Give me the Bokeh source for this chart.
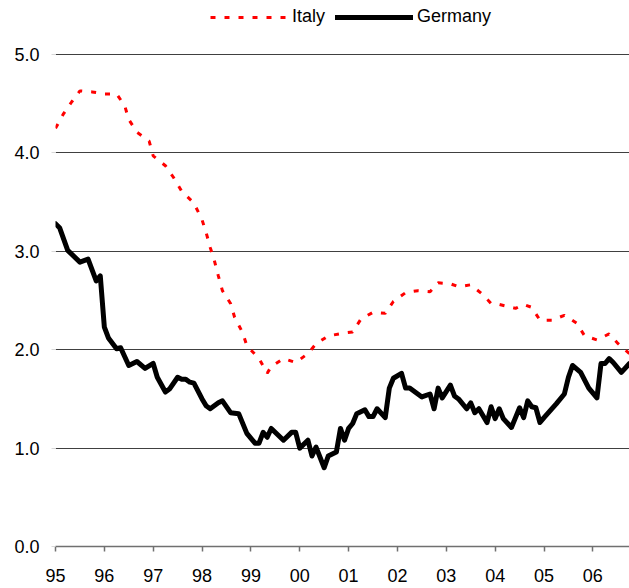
from bokeh.plotting import figure
from bokeh.models import FixedTicker, Legend, LegendItem, Range1d, NumeralTickFormatter
from bokeh.embed import file_html
from bokeh.resources import INLINE

# months since Jan 1995
year_ticks = [0, 12, 24, 36, 48, 60, 72, 84, 96, 108, 120, 132]
year_labels = ["95", "96", "97", "98", "99", "00", "01", "02", "03", "04", "05", "06"]
y_ticks = [0, 1, 2, 3, 4, 5]

germany_month = [0, 1, 3, 6, 8, 10, 11, 12, 13, 15, 16, 18, 20, 22, 24, 25, 27, 28, 30, 31,
                 32, 33, 34, 36, 37, 38, 40, 41, 43, 45, 47, 49, 50, 51, 52, 53, 56, 58, 59, 60,
                 62, 63, 64, 66, 67, 69, 70, 71, 72, 73, 74, 76, 77, 78, 79, 81, 82, 83, 85, 86,
                 87, 90, 92, 93, 94, 95, 97, 98, 99, 101, 102, 103, 104, 106, 107, 108, 109, 110,
                 112, 113, 114, 115, 116, 117, 118, 119, 120, 123, 125, 126, 127, 129, 131, 133,
                 134, 135, 136, 137, 139, 141]
germany_value = [3.28, 3.24, 3.01, 2.89, 2.92, 2.70, 2.75, 2.23, 2.12, 2.01, 2.02, 1.84, 1.88, 1.81,
                 1.86, 1.72, 1.57, 1.60, 1.72, 1.70, 1.70, 1.67, 1.66, 1.50, 1.43, 1.40, 1.46, 1.48,
                 1.36, 1.35, 1.15, 1.05, 1.05, 1.16, 1.11, 1.20, 1.08, 1.16, 1.16, 1.00, 1.08, 0.92,
                 1.01, 0.80, 0.92, 0.96, 1.20, 1.08, 1.20, 1.25, 1.35, 1.39, 1.32, 1.32, 1.40, 1.31,
                 1.61, 1.71, 1.76, 1.61, 1.61, 1.52, 1.55, 1.40, 1.61, 1.51, 1.64, 1.53, 1.50, 1.40,
                 1.46, 1.36, 1.40, 1.26, 1.42, 1.30, 1.40, 1.30, 1.21, 1.31, 1.41, 1.31, 1.48, 1.42,
                 1.41, 1.26, 1.31, 1.45, 1.55, 1.72, 1.84, 1.77, 1.61, 1.51, 1.86, 1.86, 1.91, 1.87,
                 1.77, 1.86]

italy_month = [0, 2, 4, 6, 9, 12, 15, 17, 18, 20, 23, 24, 27, 29, 31, 34, 36, 37, 38, 39, 40, 41,
               43, 44, 46, 47, 50, 52, 53, 56, 59, 62, 64, 67, 71, 73, 75, 78, 81, 83, 86, 89, 92,
               94, 97, 99, 102, 105, 107, 109, 113, 115, 117, 119, 122, 125, 128, 130, 133, 136,
               138, 141]
italy_value = [4.25, 4.40, 4.52, 4.63, 4.62, 4.60, 4.60, 4.48, 4.34, 4.21, 4.12, 3.97, 3.87, 3.75,
               3.61, 3.49, 3.32, 3.19, 3.04, 2.91, 2.75, 2.60, 2.47, 2.33, 2.17, 2.04, 1.91, 1.76,
               1.83, 1.91, 1.87, 1.96, 2.06, 2.14, 2.17, 2.18, 2.31, 2.38, 2.37, 2.49, 2.58, 2.60,
               2.59, 2.68, 2.67, 2.64, 2.66, 2.56, 2.47, 2.46, 2.42, 2.46, 2.43, 2.30, 2.30, 2.35,
               2.27, 2.14, 2.10, 2.16, 2.07, 1.96]

FONT = "Liberation Sans"
FSIZE = "18px"

# frame spans the full height above the axis; headroom above 5.0 holds the legend
p = figure(width=629, height=588, output_backend="svg", toolbar_location=None,
           x_range=Range1d(0, 141), y_range=Range1d(0, 5.549),
           min_border_left=55, min_border_right=0, min_border_top=0, min_border_bottom=42)
p.outline_line_color = None
p.background_fill_color = "white"
p.border_fill_color = "white"

r_it = p.line(italy_month, italy_value, line_color="#ff0000", line_width=3, line_dash="5 9")
r_de = p.line(germany_month, germany_value, line_color="black", line_width=5,
              line_cap="round", line_join="round")

# x axis
p.xaxis.ticker = FixedTicker(ticks=year_ticks)
p.xaxis.major_label_overrides = {t: l for t, l in zip(year_ticks, year_labels)}
p.xaxis.axis_line_color = "#707070"
p.xaxis.axis_line_width = 1.5
p.xaxis.major_tick_line_color = "#707070"
p.xaxis.major_tick_line_width = 1.5
p.xaxis.major_tick_out = 5
p.xaxis.major_tick_in = 0
p.xaxis.minor_tick_line_color = None
p.xaxis.major_label_standoff = 17
p.xaxis.major_label_text_font = FONT
p.xaxis.major_label_text_font_size = FSIZE
p.xaxis.major_label_text_color = "black"

# y axis
p.yaxis.ticker = FixedTicker(ticks=y_ticks)
p.yaxis.formatter = NumeralTickFormatter(format="0.0")
p.yaxis.axis_line_color = None
p.yaxis.major_tick_line_color = "#d8d8d8"
p.yaxis.major_tick_out = 4
p.yaxis.major_tick_in = 0
p.yaxis.minor_tick_line_color = None
p.yaxis.major_label_standoff = 12
p.yaxis.major_label_text_font = FONT
p.yaxis.major_label_text_font_size = FSIZE
p.yaxis.major_label_text_color = "black"

p.xgrid.visible = False
p.ygrid.grid_line_color = "#404040"
p.ygrid.grid_line_width = 1

legend = Legend(items=[LegendItem(label="Italy", renderers=[r_it]),
                       LegendItem(label="Germany", renderers=[r_de])],
                orientation="horizontal", location=(155, 519),
                glyph_width=78, glyph_height=20, label_standoff=4, spacing=10,
                label_text_font=FONT, label_text_font_size=FSIZE, label_text_color="black",
                border_line_color=None, background_fill_alpha=0, padding=0, margin=0)
p.add_layout(legend)

open("out.html", "w").write(file_html(p, INLINE))
